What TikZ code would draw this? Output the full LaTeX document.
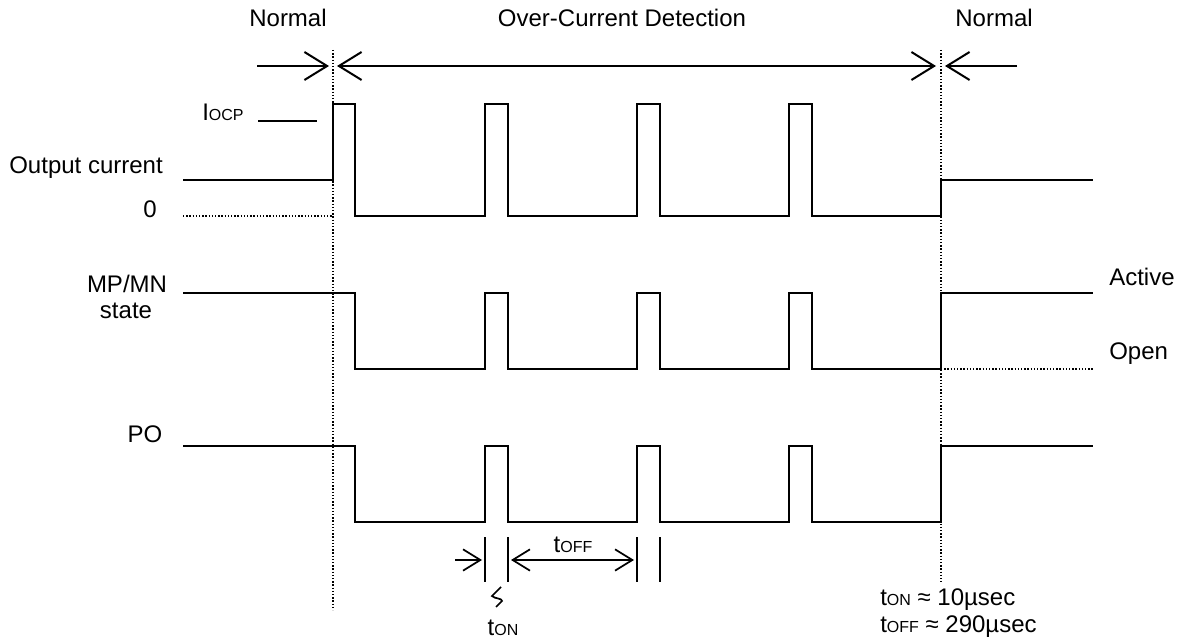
\documentclass[tikz,border=0pt]{standalone}
\usepackage{fontspec}
\setmainfont{Liberation Sans}
\usetikzlibrary{arrows.meta}
\tikzset{
  wave/.style={line width=1.5pt, line join=miter},
  guide/.style={line width=1pt, dash pattern=on 1.1pt off 1.3pt},
  lbl/.style={inner sep=0pt, anchor=base, font=\fontsize{18}{21}\selectfont},
  tiparr/.style={line width=1.5pt, -{Straight Barb[length=17pt,width=21pt]}},
  bothtip/.style={line width=1.5pt, {Straight Barb[length=17pt,width=21pt]}-{Straight Barb[length=17pt,width=21pt]}},
  smallarr/.style={line width=1.3pt, -{Straight Barb[length=13pt,width=16pt]}},
  smallboth/.style={line width=1.3pt, {Straight Barb[length=13pt,width=16pt]}-{Straight Barb[length=13pt,width=16pt]}}
}
\newcommand{\subtxt}[1]{{\fontsize{12}{13}\selectfont #1}}
\begin{document}
\begin{tikzpicture}[x=0.75pt,y=-0.75pt]
    \useasboundingbox (0,0) rectangle (1180,641);
    % Titoli delle fasi
    \node[lbl] (normA) at (288,27) {Normal};
    \node[lbl] (ocd) at (622,27) {Over-Current Detection};
    \node[lbl] (normB) at (994,27) {Normal};
    % Linee tratteggiate verticali
    \coordinate (dA) at (333,50);
    \coordinate (dAe) at (333,610);
    \coordinate (dB) at (941,50);
    \coordinate (dBe) at (941,582);
    \draw[guide] (dA) -- (dAe);
    \draw[guide] (dB) -- (dBe);
    % Frecce delle fasi
    \coordinate (aA) at (257,66);
    \coordinate (aAt) at (329,66);
    \coordinate (aB) at (337,66);
    \coordinate (aBt) at (936,66);
    \coordinate (aC) at (1017,66);
    \coordinate (aCt) at (945,66);
    \draw[tiparr] (aA) -- (aAt);
    \draw[bothtip] (aB) -- (aBt);
    \draw[tiparr] (aC) -- (aCt);
    % Output current
    \node[lbl, anchor=base east] (outc) at (163,174) {Output current};
    \node[lbl] (zero) at (150,218) {0};
    \node[lbl, anchor=base west] (iocp) at (202,121) {I\subtxt{OCP}};
    \draw[line width=1.5pt] (258,121) -- (317,121);
    \draw[guide] (183,216) -- (333,216);
    \draw[wave] (183,180) -- (333,180) -- (333,104) -- (355,104) -- (355,216)
      foreach \x in {485,637,789} {-- (\x,216) -- (\x,104) -- ({\x+23},104) -- ({\x+23},216)}
      -- (941,216) -- (941,180) -- (1093,180);
    % MP/MN state
    \node[lbl] (mpmn) at (127,292) {MP/MN};
    \node[lbl] (state) at (126,319) {state};
    \node[lbl, anchor=base west] (act) at (1109,286) {Active};
    \node[lbl, anchor=base west] (opn) at (1109,359) {Open};
    \draw[guide] (941,369) -- (1093,369);
    \draw[wave] (183,293) -- (355,293) -- (355,369)
      foreach \x in {485,637,789} {-- (\x,369) -- (\x,293) -- ({\x+23},293) -- ({\x+23},369)}
      -- (941,369) -- (941,293) -- (1093,293);
    % PO
    \node[lbl] (po) at (145,442) {PO};
    \draw[wave] (183,446) -- (355,446) -- (355,522)
      foreach \x in {485,637,789} {-- (\x,522) -- (\x,446) -- ({\x+23},446) -- ({\x+23},522)}
      -- (941,522) -- (941,446) -- (1093,446);
    % Quote tON e tOFF
    \foreach \x in {485,508,637,660} {
      \draw[line width=1.3pt] (\x,537) -- (\x,582);
    }
    \coordinate (tA) at (455,560);
    \coordinate (tAt) at (482,560);
    \coordinate (tB) at (511,560);
    \coordinate (tBt) at (634,560);
    \draw[smallarr] (tA) -- (tAt);
    \draw[smallboth] (tB) -- (tBt);
    \node[lbl] (toff) at (573,552) {t\subtxt{OFF}};
    \draw[line width=1.3pt] (501,587) -- (492,596) .. controls (495,599) and (502,598) .. (502,601) -- (496,607);
    \node[lbl] (ton) at (503,635) {t\subtxt{ON}};
    % Valori
    \node[lbl, anchor=base west] (vON) at (880,605) {t\subtxt{ON} ≈ 10µsec};
    \node[lbl, anchor=base west] (vOFF) at (880,632) {t\subtxt{OFF} ≈ 290µsec};
\end{tikzpicture}
\end{document}
